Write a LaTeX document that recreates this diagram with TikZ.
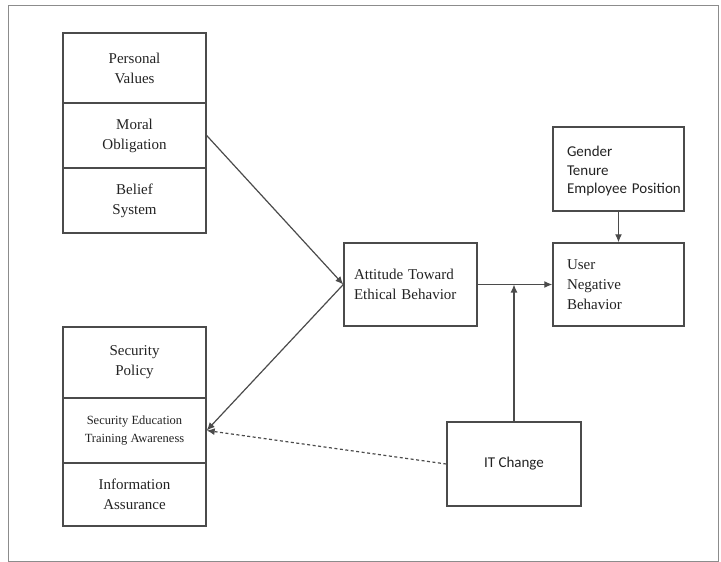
\documentclass[tikz,border=0pt]{standalone}
\usepackage{fontspec}
\setmainfont{Liberation Serif}
\newfontfamily\calfont{Carlito}
\usetikzlibrary{arrows.meta}
\definecolor{linegray}{RGB}{75,75,75}
\definecolor{framegray}{RGB}{140,140,140}
\definecolor{textgray}{RGB}{35,35,35}
\begin{document}
\begin{tikzpicture}[x=1pt,y=-1pt,
  box/.style={draw=linegray, line width=1.4pt, rectangle, inner sep=0pt, text=textgray, font=\fontsize{15}{20}\selectfont, align=center},
  arr/.style={draw=linegray, line width=1.2pt, -{Latex[length=8pt,width=7pt]}},
  dotarr/.style={arr, dash pattern=on 3pt off 2.5pt}]
\useasboundingbox (0,0) rectangle (721,562);
\draw[framegray, line width=1pt] (8,5) rectangle (718,561);
% top-left compartments
\node[box, minimum width=143, minimum height=70] (pv) at (134.5,68) {Personal\\Values};
\node[box, minimum width=143, minimum height=65] (mo) at (134.5,135.5) {Moral\\Obligation};
\node[box, minimum width=143, minimum height=65] (bs) at (134.5,200.5) {Belief\\System};
% bottom-left compartments
\node[box, minimum width=143, minimum height=71] (sp) at (134.5,362.5) {Security\\Policy};
\node[box, minimum width=143, minimum height=65, font=\fontsize{12.5}{18}\selectfont] (sea) at (134.5,430.5) {Security Education\\Training Awareness};
\node[box, minimum width=143, minimum height=63] (ia) at (134.5,494.5) {Information\\Assurance};
% attitude
\node[box, minimum width=133, minimum height=83, align=left, text width=113] (att) at (410.5,284.5) {Attitude Toward\\Ethical Behavior};
% user
\node[box, minimum width=131, minimum height=83, align=left, text width=103] (user) at (618.5,284.5) {User\\Negative\\Behavior};
% gender
\node[box, minimum width=131, minimum height=84, align=left, text width=103, font=\calfont\fontsize{15}{18.5}\selectfont] (gen) at (618.5,169) {\rule{0pt}{15pt}Gender\\Tenure\\\mbox{Employee Position}};
% IT change
\node[box, minimum width=134, minimum height=84, font=\calfont\fontsize{15}{18}\selectfont] (it) at (514,464) {IT Change};
\coordinate (j) at (it.north |- att.east);
% connectors
\draw[arr] (mo.east) -- (att.west);
\draw[arr] (att.west) -- (sea.east);
\draw[arr] (att.east) -- (user.west);
\draw[arr] (gen.south) -- (user.north);
\draw[arr] (it.north) -- (j);
\draw[dotarr] (it.west) -- (sea.east);
\end{tikzpicture}
\end{document}
